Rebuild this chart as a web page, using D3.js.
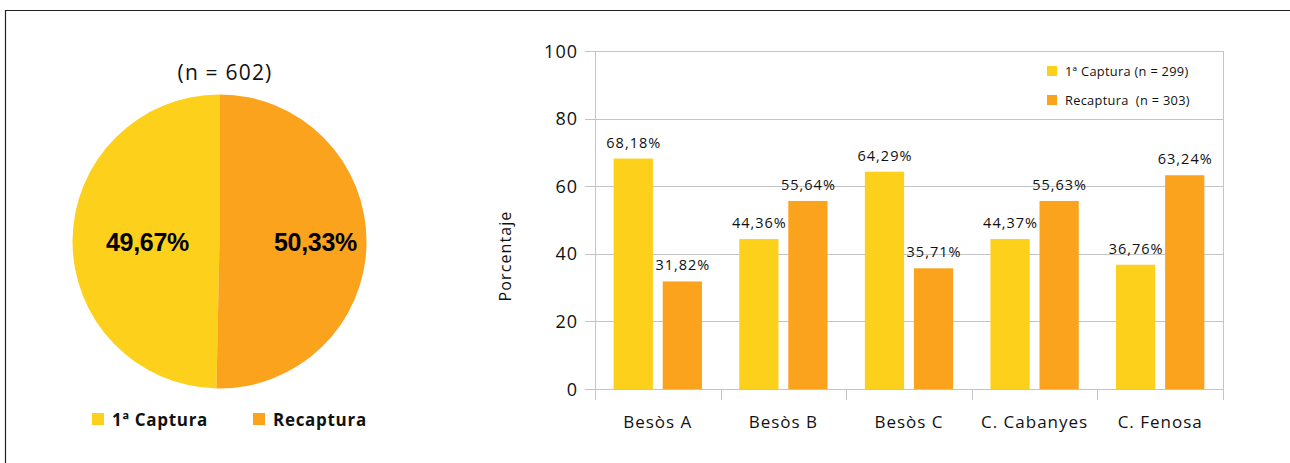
<!DOCTYPE html>
<html>
<head>
<meta charset="utf-8">
<script src="https://cdn.jsdelivr.net/npm/d3@7"></script>
<style>
  body { margin: 0; background: #fff; }
  svg { display: block; }
</style>
</head>
<body>
<div id="chart"></div>
<script>
// data
const pieLabels = ["1ª Captura", "Recaptura"];
const pieValues = [49.67, 50.33];
const pieText = ["49,67%", "50,33%"];
const pieTitle = "(n = 602)";

const sites = ["Besòs A", "Besòs B", "Besòs C", "C. Cabanyes", "C. Fenosa"];
const captura = [68.18, 44.36, 64.29, 44.37, 36.76];
const recaptura = [31.82, 55.64, 35.71, 55.63, 63.24];
const capturaText = ["68,18%", "44,36%", "64,29%", "44,37%", "36,76%"];
const recapturaText = ["31,82%", "55,64%", "35,71%", "55,63%", "63,24%"];
const seriesNames = ["1ª Captura (n = 299)", "Recaptura  (n = 303)"];
const yTicks = [0, 20, 40, 60, 80, 100];

const colors = ["#fdd01c", "#fca31e"];
const W = 1290, H = 463;
const font = "'Open Sans', Lato, sans-serif";

const svg = d3.select("#chart").append("svg")
  .attr("width", W)
  .attr("height", H);

// outer frame (top + left only)
svg.append("path")
  .attr("d", `M${W},10.5 H5.5 V${H}`)
  .attr("fill", "none")
  .attr("stroke", "#222")
  .attr("stroke-width", 1.2);

// ---------- PIE ----------
const cx = 219.5, cy = 241.5, r = 147;
const startA = -2 * Math.PI * pieValues[0] / 100;
const pie = d3.pie().sort(null).startAngle(startA).endAngle(startA + 2 * Math.PI);
const arc = d3.arc().innerRadius(0).outerRadius(r);
const arcs = pie(pieValues);

const pieG = svg.append("g").attr("transform", `translate(${cx},${cy})`);
pieG.selectAll("path.slice")
  .data(arcs)
  .enter()
  .append("path")
    .attr("class", "slice")
    .attr("d", arc)
    .attr("fill", (d, i) => colors[i]);

// slice labels
const labelR = [72, 96];
pieG.selectAll("text.plabel")
  .data(arcs)
  .enter()
  .append("text")
    .attr("class", "plabel")
    .attr("x", (d, i) => d3.arc().innerRadius(labelR[i]).outerRadius(labelR[i]).centroid(d)[0])
    .attr("y", 9)
    .attr("text-anchor", "middle")
    .attr("font-family", "'Liberation Sans', Arial, sans-serif")
    .attr("font-weight", "bold")
    .attr("font-size", 25)
    .attr("letter-spacing", -0.3)
    .attr("fill", "#000")
    .text((d, i) => pieText[i]);

svg.append("text")
  .attr("x", 225)
  .attr("y", 80)
  .attr("text-anchor", "middle")
  .attr("font-family", font)
  .attr("font-size", 21)
  .attr("letter-spacing", 1.2)
  .attr("fill", "#111")
  .text(pieTitle);

// pie legend
const pieLegX = [92, 253];
const pieLeg = svg.selectAll("g.pleg")
  .data(pieLabels)
  .enter()
  .append("g")
    .attr("class", "pleg")
    .attr("transform", (d, i) => `translate(${pieLegX[i]},413)`);
pieLeg.append("rect")
  .attr("width", 12)
  .attr("height", 12)
  .attr("fill", (d, i) => colors[i]);
pieLeg.append("text")
  .attr("x", 20)
  .attr("y", 12.5)
  .attr("font-family", font)
  .attr("font-weight", "bold")
  .attr("font-size", 17)
  .attr("letter-spacing", 0.7)
  .attr("fill", "#111")
  .text(d => d);

// ---------- BAR CHART ----------
const plot = {left: 595, right: 1223, top: 51, bottom: 389};

const x = d3.scaleBand()
  .domain(sites)
  .range([plot.left, plot.right]);

const xInner = d3.scaleBand()
  .domain([0, 1])
  .range([0, x.bandwidth()])
  .paddingInner(0.2)
  .paddingOuter(0.38);

const y = d3.scaleLinear()
  .domain([0, 100])
  .range([plot.bottom, plot.top]);

// gridlines
svg.append("g")
  .selectAll("line")
  .data(yTicks)
  .enter()
  .append("line")
    .attr("x1", plot.left - 10)
    .attr("x2", plot.right)
    .attr("y1", d => Math.round(y(d)) + 0.5)
    .attr("y2", d => Math.round(y(d)) + 0.5)
    .attr("stroke", "#c4c4c4")
    .attr("stroke-width", 1);

// right frame
svg.append("line")
  .attr("x1", plot.right + 0.5).attr("x2", plot.right + 0.5)
  .attr("y1", plot.top).attr("y2", plot.bottom + 11)
  .attr("stroke", "#c4c4c4");

// y axis line
svg.append("line")
  .attr("x1", plot.left + 0.5).attr("x2", plot.left + 0.5)
  .attr("y1", plot.top).attr("y2", plot.bottom + 11)
  .attr("stroke", "#c4c4c4");

// category tick marks
svg.append("g")
  .selectAll("line")
  .data(sites.slice(1))
  .enter()
  .append("line")
    .attr("x1", d => Math.round(x(d)) + 0.5)
    .attr("x2", d => Math.round(x(d)) + 0.5)
    .attr("y1", plot.bottom)
    .attr("y2", plot.bottom + 11)
    .attr("stroke", "#c4c4c4");

// y tick labels
svg.append("g")
  .selectAll("text")
  .data(yTicks)
  .enter()
  .append("text")
    .attr("x", plot.left - 17)
    .attr("y", d => y(d) + 6.5)
    .attr("text-anchor", "end")
    .attr("font-family", font)
    .attr("font-size", 18)
    .attr("letter-spacing", 1)
    .attr("fill", "#111")
    .text(d => d);

// x labels
svg.append("g")
  .selectAll("text")
  .data(sites)
  .enter()
  .append("text")
    .attr("x", d => x(d) + x.bandwidth() / 2)
    .attr("y", 428)
    .attr("text-anchor", "middle")
    .attr("font-family", font)
    .attr("font-size", 17)
    .attr("letter-spacing", 1)
    .attr("fill", "#111")
    .text(d => d);

// y title
svg.append("text")
  .attr("transform", "translate(511,256) rotate(-90)")
  .attr("text-anchor", "middle")
  .attr("font-family", font)
  .attr("font-size", 16)
  .attr("letter-spacing", 1.1)
  .attr("fill", "#111")
  .text("Porcentaje");

// bars
const series = [captura, recaptura];
const seriesText = [capturaText, recapturaText];
series.forEach(function(vals, s) {
  const g = svg.append("g");
  g.selectAll("rect")
    .data(vals)
    .enter()
    .append("rect")
      .attr("x", (d, i) => x(sites[i]) + xInner(s))
      .attr("y", d => y(d))
      .attr("width", xInner.bandwidth())
      .attr("height", d => plot.bottom - y(d))
      .attr("fill", colors[s]);
  g.selectAll("text")
    .data(vals)
    .enter()
    .append("text")
      .attr("x", (d, i) => x(sites[i]) + xInner(s) + xInner.bandwidth() / 2 + 0.5)
      .attr("y", d => y(d) - 11)
      .attr("text-anchor", "middle")
      .attr("font-family", font)
      .attr("font-size", 14.5)
      .attr("letter-spacing", 1)
      .attr("fill", "#111")
      .text((d, i) => seriesText[s][i]);
});

// bar legend
const leg = svg.selectAll("g.bleg")
  .data(seriesNames)
  .enter()
  .append("g")
    .attr("class", "bleg")
    .attr("transform", (d, i) => `translate(1047,${66 + i * 29})`);
leg.append("rect")
  .attr("width", 10)
  .attr("height", 10)
  .attr("fill", (d, i) => colors[i]);
leg.append("text")
  .attr("x", 18)
  .attr("y", 10)
  .attr("font-family", font)
  .attr("font-size", 12.8)
  .attr("letter-spacing", 0.3)
  .attr("fill", "#111")
  .style("white-space", "pre")
  .text(d => d);
</script>
</body>
</html>
